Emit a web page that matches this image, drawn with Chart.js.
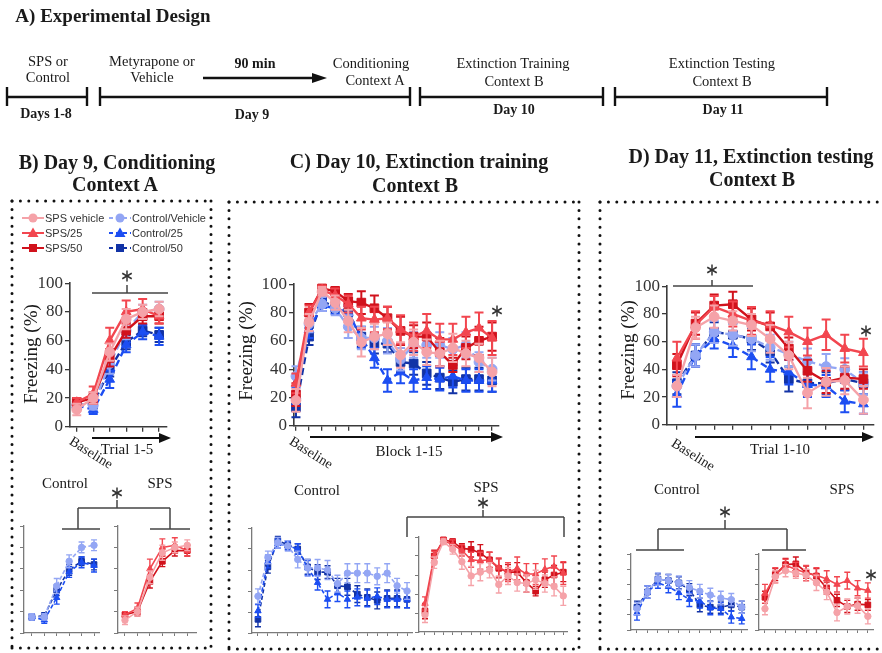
<!DOCTYPE html>
<html>
<head>
<meta charset="utf-8">
<script src="https://cdn.jsdelivr.net/npm/chart.js@4.4.1/dist/chart.umd.min.js"></script>
<style>
body { margin: 0; background: #fff; }
#fig { position: relative; width: 882px; height: 653px; overflow: hidden; font-family: "Liberation Serif", "Times New Roman", serif; color: #1a1a1a; }
#fig canvas { position: absolute; }
#fig svg { position: absolute; left: 0; top: 0; }
.t { position: absolute; white-space: nowrap; line-height: 1; transform: translate(-50%, -50%); }
</style>
</head>
<body>
<div id="fig"></div>
<script>
// ---- data: Day 9 conditioning (baseline + trials 1-5)
const bLabels = ['Baseline', '1', '2', '3', '4', '5'];
const bSpsVeh = [12, 20, 52, 75, 80, 82];
const bSps25 = [17, 23, 60, 80, 82, 77];
const bSps50 = [17, 20, 48, 67, 77, 77];
const bCtlVeh = [15, 15, 44, 67, 80, 82];
const bCtl25 = [15, 12, 33, 57, 66, 63];
const bCtl50 = [15, 16, 40, 59, 67, 64];
const eBSpsVeh = [4, 4, 6, 7, 5, 5];
const eBSps25 = [3, 5, 9, 8, 7, 5];
const eBSps50 = [3, 4, 6, 5, 5, 5];
const eBCtlVeh = [3, 3, 7, 6, 5, 5];
const eBCtl25 = [3, 3, 6, 5, 5, 6];
const eBCtl50 = [3, 3, 5, 5, 4, 5];

// ---- data: Day 10 extinction training (baseline + blocks 1-15)
const cLabels = ['Baseline', '1', '2', '3', '4', '5', '6', '7', '8', '9', '10', '11', '12', '13', '14', '15'];
const cSpsVeh = [18, 73, 95, 87, 74, 59, 63, 65, 50, 59, 52, 51, 55, 51, 48, 38];
const cSps25 = [30, 80, 96, 92, 86, 76, 75, 76, 68, 63, 67, 61, 61, 66, 69, 62];
const cSps50 = [22, 80, 97, 95, 88, 87, 83, 76, 67, 63, 63, 52, 43, 55, 60, 63];
const cCtlVeh = [35, 72, 86, 83, 70, 62, 62, 60, 47, 57, 57, 57, 54, 57, 45, 40];
const cCtl25 = [21, 68, 85, 83, 80, 62, 48, 32, 38, 32, 34, 33, 35, 32, 32, 32];
const cCtl50 = [13, 63, 88, 84, 80, 63, 58, 58, 45, 44, 37, 34, 31, 33, 33, 32];
const eCSpsVeh = [8, 6, 3, 5, 8, 10, 9, 8, 9, 9, 9, 9, 10, 9, 10, 10];
const eCSps25 = [7, 5, 3, 5, 6, 8, 9, 8, 10, 10, 12, 11, 11, 11, 11, 12];
const eCSps50 = [8, 6, 2, 3, 5, 8, 9, 8, 10, 8, 10, 10, 5, 8, 10, 10];
const eCCtlVeh = [7, 6, 5, 5, 8, 8, 8, 9, 8, 9, 9, 9, 8, 9, 7, 8];
const eCCtl25 = [6, 6, 4, 4, 5, 7, 7, 8, 8, 8, 8, 8, 8, 8, 8, 8];
const eCCtl50 = [7, 6, 4, 4, 5, 7, 7, 6, 7, 8, 8, 8, 8, 8, 8, 8];

// ---- data: Day 11 extinction testing (baseline + trials 1-10)
const dLabels = ['Baseline', '1', '2', '3', '4', '5', '6', '7', '8', '9', '10'];
const dSpsVeh = [28, 70, 78, 75, 72, 62, 50, 23, 31, 32, 18];
const dSps25 = [48, 72, 85, 80, 75, 72, 67, 60, 65, 55, 52];
const dSps50 = [43, 73, 86, 87, 76, 71, 55, 39, 31, 34, 33];
const dCtlVeh = [28, 50, 67, 65, 62, 56, 51, 46, 42, 40, 30];
const dCtl25 = [22, 50, 62, 57, 49, 40, 38, 29, 28, 17, 15];
const dCtl50 = [30, 50, 67, 65, 62, 53, 33, 30, 30, 33, 30];
const eDSpsVeh = [8, 8, 8, 7, 8, 10, 10, 11, 10, 10, 10];
const eDSps25 = [12, 10, 8, 9, 10, 10, 11, 10, 11, 10, 10];
const eDSps50 = [8, 8, 8, 9, 8, 10, 8, 8, 8, 8, 7];
const eDCtlVeh = [8, 8, 8, 8, 9, 9, 9, 9, 9, 8, 8];
const eDCtl25 = [9, 8, 7, 8, 9, 9, 9, 9, 8, 8, 7];
const eDCtl50 = [8, 8, 7, 8, 8, 8, 9, 8, 8, 8, 8];

const yTicks = [0, 20, 40, 60, 80, 100];

const styles = {
    spsVeh: { name: 'SPS vehicle', color: '#f5a2a8', shape: 'circle', dash: [] },
    sps25: { name: 'SPS/25', color: '#f2464f', shape: 'triangle', dash: [] },
    sps50: { name: 'SPS/50', color: '#d1121c', shape: 'rect', dash: [] },
    ctlVeh: { name: 'Control/Vehicle', color: '#93a6f4', shape: 'circle', dash: [7, 4] },
    ctl25: { name: 'Control/25', color: '#1c4ef2', shape: 'triangle', dash: [7, 4] },
    ctl50: { name: 'Control/50', color: '#1233a6', shape: 'rect', dash: [7, 4] }
};
const sizeScale = { circle: 1, triangle: 1.15, rect: 1.25 };

const fig = document.getElementById('fig');

// error bars drawn under each dataset's own points
const errorBars = {
    id: 'errorBars',
    beforeDatasetDraw(chart, args, opts) {
        const ds = chart.data.datasets[args.index];
        if (!ds.err) return;
        const ctx = chart.ctx;
        const ys = chart.scales.y;
        ctx.save();
        ctx.strokeStyle = ds.borderColor;
        ctx.lineWidth = opts.width;
        ctx.setLineDash([]);
        args.meta.data.forEach(function(pt, i) {
            const v = ds.data[i].y, e = ds.err[i];
            const y1 = ys.getPixelForValue(v + e), y2 = ys.getPixelForValue(v - e);
            ctx.beginPath();
            ctx.moveTo(pt.x, y1); ctx.lineTo(pt.x, y2);
            ctx.moveTo(pt.x - opts.cap, y1); ctx.lineTo(pt.x + opts.cap, y1);
            ctx.moveTo(pt.x - opts.cap, y2); ctx.lineTo(pt.x + opts.cap, y2);
            ctx.stroke();
        });
        ctx.restore();
    }
};

function series(vals, errs, key, main) {
    const s = styles[key];
    const r = (main ? 4.9 : 3.2) * sizeScale[s.shape];
    return {
        label: s.name,
        data: vals.map(function(v, i) { return { x: i, y: v }; }),
        err: errs,
        borderColor: s.color,
        backgroundColor: s.color,
        pointBackgroundColor: s.color,
        pointBorderColor: s.color,
        borderWidth: main ? 2.4 : 1.6,
        borderDash: main ? s.dash : s.dash.map(function(d) { return d * 0.6; }),
        pointStyle: s.shape,
        pointRadius: r,
        pointBorderWidth: 1,
        tension: 0,
        clip: false
    };
}

function makeChart(area, labels, xmin, xmax, datasets, main) {
    const yw = main ? 44 : 6, padTop = main ? 12 : 4, padRight = 4, xh = main ? 12 : 5;
    const axisColor = main ? '#3a3a3a' : '#7a7a7a';
    const canvas = document.createElement('canvas');
    const w = area.r - area.l + yw + padRight, h = area.b - area.t + padTop + xh;
    canvas.width = w; canvas.height = h;
    canvas.style.left = (area.l - yw) + 'px';
    canvas.style.top = (area.t - padTop) + 'px';
    canvas.style.width = w + 'px'; canvas.style.height = h + 'px';
    fig.appendChild(canvas);
    new Chart(canvas.getContext('2d'), {
        type: 'line',
        data: { datasets: datasets },
        plugins: [errorBars],
        options: {
            responsive: false,
            maintainAspectRatio: false,
            devicePixelRatio: 1,
            animation: false,
            layout: { padding: { left: 0, top: padTop, right: padRight, bottom: 0 } },
            plugins: {
                legend: { display: false },
                tooltip: { enabled: false },
                errorBars: { width: main ? 2 : 1.4, cap: main ? 4.5 : 3 }
            },
            scales: {
                x: {
                    type: 'linear', min: xmin, max: xmax,
                    afterBuildTicks: function(s) { s.ticks = labels.map(function(_, i) { return { value: i }; }); },
                    afterFit: function(s) { s.height = xh; },
                    ticks: { display: false },
                    grid: { drawOnChartArea: false, drawTicks: true, tickLength: main ? 5 : 3, color: axisColor, lineWidth: main ? 1.3 : 1 },
                    border: { color: axisColor, width: main ? 1.6 : 1.3 }
                },
                y: {
                    min: 0, max: 100,
                    afterBuildTicks: function(s) { s.ticks = yTicks.map(function(v) { return { value: v }; }); },
                    afterFit: function(s) { s.width = yw; },
                    ticks: { display: main, color: '#333', padding: 2, font: { family: '"Liberation Serif", serif', size: 17 } },
                    grid: { drawOnChartArea: false, drawTicks: true, tickLength: main ? 5 : 4, color: axisColor, lineWidth: main ? 1.3 : 1 },
                    border: { color: axisColor, width: main ? 1.6 : 1.3 }
                }
            }
        }
    });
}

// ---- main charts
makeChart({ l: 70, t: 283, r: 170, b: 427 }, bLabels, -0.41, 5.47, [
    series(bSpsVeh, eBSpsVeh, 'spsVeh', true), series(bSps25, eBSps25, 'sps25', true), series(bSps50, eBSps50, 'sps50', true),
    series(bCtlVeh, eBCtlVeh, 'ctlVeh', true), series(bCtl25, eBCtl25, 'ctl25', true), series(bCtl50, eBCtl50, 'ctl50', true)
], true);
makeChart({ l: 294, t: 284, r: 502, b: 426 }, cLabels, -0.15, 15.52, [
    series(cSpsVeh, eCSpsVeh, 'spsVeh', true), series(cSps25, eCSps25, 'sps25', true), series(cSps50, eCSps50, 'sps50', true),
    series(cCtlVeh, eCCtlVeh, 'ctlVeh', true), series(cCtl25, eCCtl25, 'ctl25', true), series(cCtl50, eCCtl50, 'ctl50', true)
], true);
makeChart({ l: 667, t: 286, r: 877, b: 425 }, dLabels, -0.53, 10.56, [
    series(dSpsVeh, eDSpsVeh, 'spsVeh', true), series(dSps25, eDSps25, 'sps25', true), series(dSps50, eDSps50, 'sps50', true),
    series(dCtlVeh, eDCtlVeh, 'ctlVeh', true), series(dCtl25, eDCtl25, 'ctl25', true), series(dCtl50, eDCtl50, 'ctl50', true)
], true);

// ---- insets split by group
makeChart({ l: 24, t: 525, r: 100, b: 633 }, bLabels, -0.63, 5.4, [
    series(bCtlVeh, eBCtlVeh, 'ctlVeh', false), series(bCtl25, eBCtl25, 'ctl25', false), series(bCtl50, eBCtl50, 'ctl50', false)
], false);
makeChart({ l: 118, t: 525, r: 197, b: 633 }, bLabels, -0.56, 5.7, [
    series(bSpsVeh, eBSpsVeh, 'spsVeh', false), series(bSps25, eBSps25, 'sps25', false), series(bSps50, eBSps50, 'sps50', false)
], false);
makeChart({ l: 252, t: 527, r: 413, b: 633 }, cLabels, -0.6, 15.5, [
    series(cCtlVeh, eCCtlVeh, 'ctlVeh', false), series(cCtl25, eCCtl25, 'ctl25', false), series(cCtl50, eCCtl50, 'ctl50', false)
], false);
makeChart({ l: 419, t: 536, r: 568, b: 632 }, cLabels, -0.65, 15.4, [
    series(cSpsVeh, eCSpsVeh, 'spsVeh', false), series(cSps25, eCSps25, 'sps25', false), series(cSps50, eCSps50, 'sps50', false)
], false);
makeChart({ l: 631, t: 553, r: 748, b: 630 }, dLabels, -0.57, 10.5, [
    series(dCtlVeh, eDCtlVeh, 'ctlVeh', false), series(dCtl25, eDCtl25, 'ctl25', false), series(dCtl50, eDCtl50, 'ctl50', false)
], false);
makeChart({ l: 759, t: 553, r: 874, b: 630 }, dLabels, -0.58, 10.5, [
    series(dSpsVeh, eDSpsVeh, 'spsVeh', false), series(dSps25, eDSps25, 'sps25', false), series(dSps50, eDSps50, 'sps50', false)
], false);

// ---- overlay: timeline, boxes, brackets, arrows, legend
const NS = 'http://www.w3.org/2000/svg';
const svg = document.createElementNS(NS, 'svg');
svg.setAttribute('width', 882); svg.setAttribute('height', 653);
fig.appendChild(svg);
function el(tag, attrs) {
    const e = document.createElementNS(NS, tag);
    for (const k in attrs) e.setAttribute(k, attrs[k]);
    svg.appendChild(e);
    return e;
}
function line(x1, y1, x2, y2, color, w, dash) {
    const a = { x1: x1, y1: y1, x2: x2, y2: y2, stroke: color, 'stroke-width': w };
    if (dash) { a['stroke-dasharray'] = dash; a['stroke-linecap'] = 'round'; }
    return el('line', a);
}
function arrow(x1, x2, y, head, w) {
    line(x1, y, x2 - head, y, '#111', w);
    el('polygon', { points: (x2 - head - 1) + ',' + (y - 5) + ' ' + x2 + ',' + y + ' ' + (x2 - head - 1) + ',' + (y + 5), fill: '#111' });
}
function star(cx, cy) {
    const r = 5.5;
    [90, 30, 150].forEach(function(a) {
        const dx = r * Math.cos(a * Math.PI / 180), dy = r * Math.sin(a * Math.PI / 180);
        line(cx - dx, cy - dy, cx + dx, cy + dy, '#333', 1.5);
    });
}

// timeline
[[7, 87], [100, 410], [420, 603], [615, 827]].forEach(function(s) {
    line(s[0], 97, s[1], 97, '#111', 2.4);
    line(s[0], 87, s[0], 106, '#111', 2.4);
    line(s[1], 87, s[1], 106, '#111', 2.4);
});
arrow(203, 327, 78, 14, 2.6);

// dotted panel boxes
const dot = '0 8.4';
line(12, 201, 211, 201, '#111', 3, dot); line(12, 201, 12, 648, '#111', 3, dot);
line(211, 201, 211, 648, '#111', 3, dot); line(12, 648, 211, 648, '#111', 3, dot);
line(229, 202, 579, 202, '#111', 3, dot); line(229, 202, 229, 649, '#111', 3, dot);
line(579, 202, 579, 649, '#111', 3, dot); line(229, 649, 579, 649, '#111', 3, dot);
line(600, 202, 882, 202, '#111', 3, dot); line(600, 202, 600, 649, '#111', 3, dot);
line(600, 649, 882, 649, '#111', 3, dot);

// x-axis arrows under main charts
arrow(92, 171, 438, 11, 1.8);
arrow(310, 503, 437, 11, 1.8);
arrow(695, 874, 437, 11, 1.8);

// significance brackets
const bc = '#444';
line(92, 293, 168, 293, bc, 1.5); line(127, 285, 127, 293, bc, 1.5); star(127, 276);
star(497, 311);
line(673, 286, 753, 286, bc, 1.5); line(712, 280, 712, 286, bc, 1.5); star(712, 270); star(866, 331);
// B insets
star(117, 493);
line(117, 500, 117, 508, bc, 1.5); line(78, 508, 170, 508, bc, 1.5);
line(78, 508, 78, 529, bc, 1.5); line(170, 508, 170, 529, bc, 1.5);
line(62, 529, 100, 529, bc, 1.5); line(150, 529, 190, 529, bc, 1.5);
// C insets
star(483, 503);
line(483, 510, 483, 517, bc, 1.5); line(407, 517, 564, 517, bc, 1.5);
line(407, 517, 407, 537, bc, 1.5); line(564, 517, 564, 537, bc, 1.5);
// D insets
star(725, 512);
line(725, 520, 725, 529, bc, 1.5); line(658, 529, 787, 529, bc, 1.5);
line(658, 529, 658, 550, bc, 1.5); line(787, 529, 787, 550, bc, 1.5);
line(636, 550, 684, 550, bc, 1.5); line(762, 550, 806, 550, bc, 1.5);
star(871, 575);

// legend
[['spsVeh', 33, 218], ['sps25', 33, 233], ['sps50', 33, 248],
 ['ctlVeh', 120, 218], ['ctl25', 120, 233], ['ctl50', 120, 248]].forEach(function(it) {
    const s = styles[it[0]], x = it[1], y = it[2];
    line(x - 11, y, x + 11, y, s.color, 2, s.dash.length ? '4 3' : null).setAttribute('stroke-linecap', 'butt');
    if (s.shape === 'circle') el('circle', { cx: x, cy: y, r: 4.5, fill: s.color });
    else if (s.shape === 'rect') el('rect', { x: x - 4, y: y - 4, width: 8, height: 8, fill: s.color });
    else el('polygon', { points: x + ',' + (y - 5.5) + ' ' + (x + 5.5) + ',' + (y + 4) + ' ' + (x - 5.5) + ',' + (y + 4), fill: s.color });
    const t = el('text', { x: x + 12, y: y + 4, fill: '#333', 'font-family': '"Liberation Sans", Arial, sans-serif', 'font-size': 11 });
    t.textContent = s.name;
});

// ---- text
const texts = [
    ['A) Experimental Design', 113, 15, 19, 700, 0],
    ['SPS or', 48, 61, 14.5, 400, 0], ['Control', 48, 77, 14.5, 400, 0],
    ['Days 1-8', 46, 114, 14, 700, 0],
    ['Metyrapone or', 152, 61, 14.5, 400, 0], ['Vehicle', 152, 77, 14.5, 400, 0],
    ['90 min', 255, 64, 14, 700, 0],
    ['Conditioning', 371, 63, 14.5, 400, 0], ['Context A', 375, 80, 14.5, 400, 0],
    ['Day 9', 252, 115, 14, 700, 0],
    ['Extinction Training', 513, 63, 14.5, 400, 0], ['Context B', 514, 81, 14.5, 400, 0],
    ['Day 10', 514, 110, 14, 700, 0],
    ['Extinction Testing', 722, 63, 14.5, 400, 0], ['Context B', 722, 81, 14.5, 400, 0],
    ['Day 11', 723, 110, 14, 700, 0],
    ['B) Day 9, Conditioning', 117, 162, 20, 700, 0], ['Context A', 115, 184, 20, 700, 0],
    ['C) Day 10, Extinction training', 419, 161, 20, 700, 0], ['Context B', 415, 185, 20, 700, 0],
    ['D) Day 11, Extinction testing', 751, 156, 20, 700, 0], ['Context B', 752, 179, 20, 700, 0],
    ['Freezing (%)', 30, 354, 19, 400, -90], ['Freezing (%)', 245, 351, 19, 400, -90], ['Freezing (%)', 627, 350, 19, 400, -90],
    ['Baseline', 91, 453, 14, 400, 32], ['Baseline', 311, 453, 14, 400, 32], ['Baseline', 693, 455, 14, 400, 32],
    ['Trial 1-5', 127, 449, 15, 400, 0], ['Block 1-15', 409, 451, 15, 400, 0], ['Trial 1-10', 780, 449, 15, 400, 0],
    ['Control', 65, 483, 15, 400, 0], ['SPS', 160, 483, 15, 400, 0],
    ['Control', 317, 490, 15, 400, 0], ['SPS', 486, 487, 15, 400, 0],
    ['Control', 677, 489, 15, 400, 0], ['SPS', 842, 489, 15, 400, 0]
];
texts.forEach(function(t) {
    const d = document.createElement('div');
    d.className = 't';
    d.textContent = t[0];
    d.style.left = t[1] + 'px';
    d.style.top = t[2] + 'px';
    d.style.fontSize = t[3] + 'px';
    d.style.fontWeight = t[4];
    if (t[5]) d.style.transform = 'translate(-50%, -50%) rotate(' + t[5] + 'deg)';
    fig.appendChild(d);
});
</script>
</body>
</html>
